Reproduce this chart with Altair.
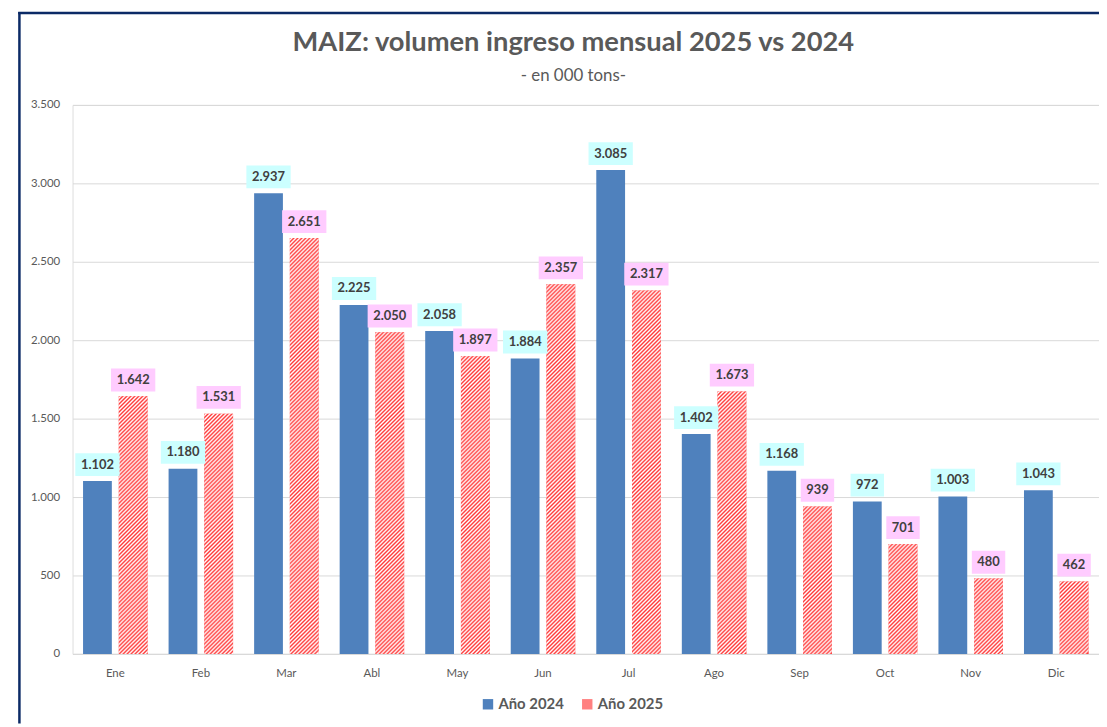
import altair as alt
import pandas as pd

# ---- data ----
meses = ["Ene", "Feb", "Mar", "Abl", "May", "Jun", "Jul", "Ago", "Sep", "Oct", "Nov", "Dic"]
vol_2024 = [1102, 1180, 2937, 2225, 2058, 1884, 3085, 1402, 1168, 972, 1003, 1043]
vol_2025 = [1642, 1531, 2651, 2050, 1897, 2357, 2317, 1673, 939, 701, 480, 462]
series = ["Año 2024", "Año 2025"]
y_ticks = [0, 500, 1000, 1500, 2000, 2500, 3000, 3500]

# ---- style ----
FONT = "Lato"
BLUE = "#4f81bd"
RED = "#ff3a3a"
TXT = "#595959"
LBL = "#404040"
GRID = "#d9d9d9"
FRAME = "#0b2a66"
PLOT_W, PLOT_H = 1034, 553
Y_MAX = 3500
PAD_IN_X, PAD_OUT_X = 0.246, 0.123
PAD_IN_OFF = 0.194
_step = PLOT_W / (len(meses) - PAD_IN_X + 2 * PAD_OUT_X)
_band = _step * (1 - PAD_IN_X)
BAR_W = _band / (2 - PAD_IN_OFF) * (1 - PAD_IN_OFF)


def fmt(v):
    return f"{v:,}".replace(",", ".")


rows = []
for m, a, b in zip(meses, vol_2024, vol_2025):
    rows.append({"mes": m, "serie": series[0], "v": a, "label": fmt(a)})
    rows.append({"mes": m, "serie": series[1], "v": b, "label": fmt(b)})
df = pd.DataFrame(rows)


def hatch(v):
    """Soft diagonal (/) stripe gradient for a bar of value v."""
    H = v / Y_MAX * PLOT_H
    W = BAR_W
    a = (W + H) / (W * W + H * H)
    d = 4.0 / (W + H)
    stops = []
    k = 0
    while k * d < 1:
        stops.append({"offset": round(k * d, 6), "color": RED})
        if k * d + d / 2 <= 1:
            stops.append({"offset": round(k * d + d / 2, 6), "color": "#ffffff"})
        k += 1
    return {"gradient": "linear", "x1": 0, "y1": 0,
            "x2": round(a * W, 8), "y2": round(a * H, 8), "stops": stops}


fill_cond = [
    {"test": f"datum.mes === '{m}'", "value": hatch(v)}
    for m, v in zip(meses, vol_2025)
]

x_enc = alt.X(
    "mes:N", sort=meses,
    scale=alt.Scale(paddingInner=PAD_IN_X, paddingOuter=PAD_OUT_X),
    axis=alt.Axis(title=None, labelAngle=0, ticks=False, domain=True, domainColor=GRID,
                  labelFont=FONT, labelFontSize=11.5, labelColor=TXT, labelPadding=14),
)
xo_enc = alt.XOffset("serie:N", sort=series,
                     scale=alt.Scale(domain=series, paddingInner=PAD_IN_OFF, paddingOuter=0))
y_enc = alt.Y(
    "v:Q", stack=None,
    scale=alt.Scale(domain=[0, Y_MAX], nice=False),
    axis=alt.Axis(title=None, values=y_ticks, domain=False, ticks=False,
                  labelExpr="replace(format(datum.value, ','), ',', '.')",
                  labelFont=FONT, labelFontSize=11.5, labelColor=TXT, labelPadding=13,
                  gridColor=GRID, gridWidth=1),
)

base = alt.Chart(df)

bars = base.mark_bar().encode(
    x=x_enc,
    xOffset=xo_enc,
    y=y_enc,
    color=alt.Color(
        "serie:N",
        scale=alt.Scale(domain=series, range=[BLUE, "#ff8080"]),
        legend=alt.Legend(title=None, orient="none", direction="horizontal",
                          legendX=411, legendY=596, symbolType="square", symbolSize=110,
                          symbolStrokeWidth=0, labelFont=FONT, labelFontSize=15,
                          labelFontWeight="bold", labelColor=TXT, labelOffset=3,
                          columnPadding=16, padding=0),
    ),
)

hatched = base.transform_filter(f"datum.serie === '{series[1]}'").mark_bar().encode(
    x=alt.X("mes:N", sort=meses),
    xOffset=alt.XOffset("serie:N", sort=series),
    y=alt.Y("v:Q", stack=None),
    fill=alt.value("#ffffff", condition=fill_cond),
)

boxes = base.mark_bar(yOffset=-5, y2Offset=-28).transform_calculate(
    bw="(datum.v >= 1000 ? (length(datum.label) - 1) * 7.55 + 3.4 : length(datum.label) * 7.55) + 11"
).encode(
    x=alt.X("mes:N", sort=meses),
    xOffset=alt.XOffset("serie:N", sort=series),
    y=alt.Y("v:Q"),
    y2=alt.Y2("v"),
    size=alt.Size("bw:Q", scale=None, legend=None),
    fill=alt.condition(f"datum.serie === '{series[0]}'", alt.value("#ccffff"), alt.value("#ffccff")),
)

labels = base.mark_text(dy=-16.5, baseline="middle", align="center", font=FONT,
                        fontSize=13, fontWeight="bold", color=LBL).encode(
    x=alt.X("mes:N", sort=meses),
    xOffset=alt.XOffset("serie:N", sort=series),
    y=alt.Y("v:Q"),
    text="label:N",
)

frame_df = pd.DataFrame({"k": [0]})
frame_left = alt.Chart(frame_df).mark_rule(color=FRAME, strokeWidth=2.5).encode(
    x=alt.value(-53.5), y=alt.value(-93.5), y2=alt.value(PLOT_H + 70)
)
frame_top = alt.Chart(frame_df).mark_rule(color=FRAME, strokeWidth=2.5).encode(
    x=alt.value(-54.75), x2=alt.value(PLOT_W), y=alt.value(-92.5)
)

chart = alt.layer(bars, hatched, boxes, labels, frame_left, frame_top).properties(
    width=PLOT_W,
    height=PLOT_H,
    autosize=alt.AutoSizeParams(type="none"),
    padding={"left": 65, "top": 95, "right": 0, "bottom": 70},
    title=alt.TitleParams(
        text="MAIZ: volumen ingreso mensual 2025 vs 2024",
        subtitle="- en 000 tons-",
        anchor="middle", frame="group", dx=-12.5, dy=93.5, offset=20,
        font=FONT, fontSize=27.5, fontWeight="bold", color=TXT,
        subtitleFont=FONT, subtitleFontSize=17, subtitleColor=TXT, subtitlePadding=12,
    ),
).configure_view(stroke=None).configure(background="white")

chart.save("out.html", embed_options={"renderer": "svg", "actions": False})
